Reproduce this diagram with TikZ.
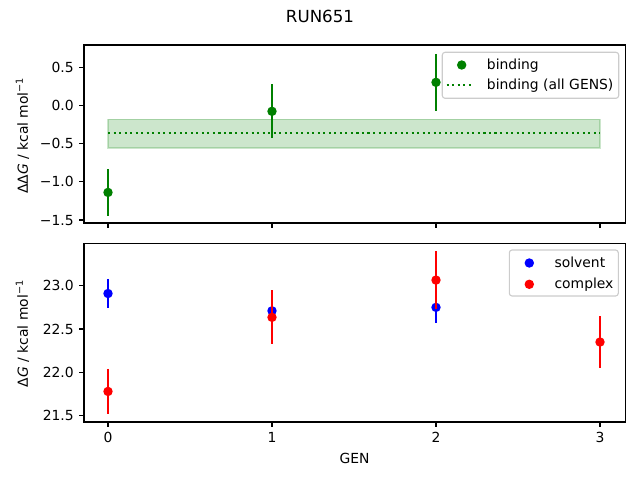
\documentclass[tikz,border=0pt]{standalone}
\usepackage{fontspec}
\setmainfont{DejaVu Sans}
\definecolor{mplgreen}{HTML}{008000}
\definecolor{mplblue}{HTML}{0000FF}
\definecolor{mplred}{HTML}{FF0000}
\begin{document}
\begin{tikzpicture}[x=0.72pt,y=-0.72pt,
  font=\fontsize{10}{12}\selectfont,
  spine/.style={line width=0.8pt, draw=black},
  tickmark/.style={line width=0.8pt, black},
  ticklab/.style={inner sep=0pt, text=black},
  errbar/.style={line width=1.5pt},
  dotr/.style={radius=3.4pt},
  legbox/.style={draw=black!20, fill=white, fill opacity=0.8, draw opacity=1, rounded corners=2pt, line width=0.8pt},
  legtext/.style={anchor=base west, inner sep=0pt}]
\useasboundingbox (0,0) rectangle (640,480);
% ---------- title ----------
\node[inner sep=0pt, font=\fontsize{12}{14}\selectfont] (title) at (320,16.7) {RUN651};
% ---------- top axes ----------
\fill[mplgreen, fill opacity=0.2, draw=mplgreen, draw opacity=0.2, line width=1pt] (108,{105.6-76.3*(-0.18)}) rectangle (600,{105.6-76.3*(-0.555)});
\draw[mplgreen, line width=1.5pt, dash pattern=on 1.5pt off 2.475pt] (108,{105.6-76.3*(-0.357)}) -- (600,{105.6-76.3*(-0.357)});
\foreach \x/\v/\e in {0/-1.138/0.305, 1/-0.075/0.352, 2/0.305/0.372} {
  \draw[errbar, mplgreen] ({108+164*\x},{105.6-76.3*(\v+\e)}) -- ({108+164*\x},{105.6-76.3*(\v-\e)});
  \fill[mplgreen] ({108+164*\x},{105.6-76.3*\v}) circle[dotr];
}
\draw[spine] (84,45) rectangle (625.3,223);
\foreach \x in {0,1,2,3} {
  \draw[tickmark] ({108+164*\x},223) -- ++(0,-3.5pt);
}
\foreach \v/\l [count=\i] in {0.5/0.5, 0/0.0, -0.5/−0.5, -1/−1.0, -1.5/−1.5} {
  \draw[tickmark] (84,{105.6-76.3*\v}) -- ++(-3.5pt,0) node[ticklab, anchor=east, xshift=-3.5pt] (ty\i) {\l};
}
\node[rotate=90, inner sep=0pt] (ylabtop) at (22.5,135.5) {ΔΔ\textit{G} / kcal mol\textsuperscript{−1}};
% legend top
\draw[legbox] (442.3,52.3) rectangle (618.7,98.3);
\fill[mplgreen] (461.7,65) circle[dotr];
\draw[mplgreen, line width=1.5pt, dash pattern=on 1.5pt off 2.475pt] (446.7,85) -- (474.3,85);
\node[legtext] (lbind) at (486.7,69.7) {binding};
\node[legtext] (lball) at (486.7,89.3) {binding (all GENS)};
% ---------- bottom axes ----------
\foreach \x/\v/\e in {0/22.91/0.17, 1/22.71/0.17, 2/22.75/0.18} {
  \draw[errbar, mplblue] ({108+164*\x},{285.7+86.67*(23-\v-\e)}) -- ({108+164*\x},{285.7+86.67*(23-\v+\e)});
  \fill[mplblue] ({108+164*\x},{285.7+86.67*(23-\v)}) circle[dotr];
}
\foreach \x/\v/\e in {0/21.78/0.26, 1/22.635/0.31, 2/23.065/0.33, 3/22.35/0.30} {
  \draw[errbar, mplred] ({108+164*\x},{285.7+86.67*(23-\v-\e)}) -- ({108+164*\x},{285.7+86.67*(23-\v+\e)});
  \fill[mplred] ({108+164*\x},{285.7+86.67*(23-\v)}) circle[dotr];
}
\draw[spine] (84,243.3) rectangle (625.3,422);
\foreach \x [count=\i] in {0,1,2,3} {
  \draw[tickmark] ({108+164*\x},422) -- ++(0,-3.5pt) node[ticklab, anchor=north, yshift=-3.5pt] (tx\i) {\x};
}
\foreach \v/\l [count=\i] in {23/23.0, 22.5/22.5, 22/22.0, 21.5/21.5} {
  \draw[tickmark] (84,{285.7+86.67*(23-\v)}) -- ++(-3.5pt,0) node[ticklab, anchor=east, xshift=-3.5pt] (tyb\i) {\l};
}
\node[rotate=90, inner sep=0pt] (ylabbot) at (22.5,333.5) {Δ\textit{G} / kcal mol\textsuperscript{−1}};
\node[inner sep=0pt, anchor=north] (xlab) at (354.6,452.7) {GEN};
% legend bottom
\draw[legbox] (509.3,250) rectangle (618.3,296);
\fill[mplblue] (529.3,263) circle[dotr];
\fill[mplred] (529.3,284.3) circle[dotr];
\node[legtext] (lsolv) at (554.3,267.7) {solvent};
\node[legtext] (lcomp) at (554.3,288.8) {complex};
\end{tikzpicture}
\end{document}
